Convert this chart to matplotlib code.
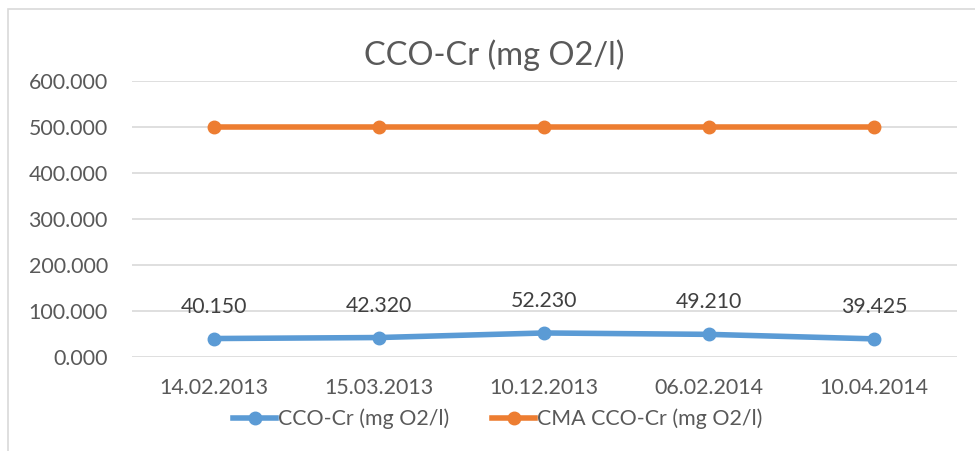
import matplotlib
matplotlib.use("Agg")
import matplotlib.pyplot as plt
from matplotlib.patches import Rectangle
from matplotlib.lines import Line2D

categories = ["14.02.2013", "15.03.2013", "10.12.2013", "06.02.2014", "10.04.2014"]
cco_cr = [40.150, 42.320, 52.230, 49.210, 39.425]
cma_cco_cr = [500, 500, 500, 500, 500]
yticks = [0, 100, 200, 300, 400, 500, 600]
title = "CCO-Cr (mg O2/l)"
series_names = ["CCO-Cr (mg O2/l)", "CMA CCO-Cr (mg O2/l)"]

BLUE = "#5B9BD5"
ORANGE = "#ED7D31"
TEXT = "#595959"
GRID = "#D9D9D9"

plt.rcParams["font.family"] = ["Lato", "DejaVu Sans"]

W, H = 975, 451
fig = plt.figure(figsize=(W / 100, H / 100), dpi=100)

# chart border
fig.patches.append(Rectangle((8 / W, -0.05), 1.2, 1 - 9 / H + 0.05, transform=fig.transFigure,
                             fill=False, edgecolor=GRID, linewidth=1.2))

ax = fig.add_axes([131.5 / W, 1 - 357 / H, (956.5 - 131.5) / W, (357 - 81) / H])
x = list(range(len(categories)))

ax.plot(x, cco_cr, color=BLUE, linewidth=4, marker="o", markersize=9, solid_capstyle="round", zorder=3)
ax.plot(x, cma_cco_cr, color=ORANGE, linewidth=4, marker="o", markersize=9, solid_capstyle="round", zorder=3)

for xi, v in zip(x, cco_cr):
    ax.annotate(f"{v:.3f}", (xi, v), xytext=(0, 23), textcoords="offset points",
                ha="center", va="center", fontsize=15.3, color="#404040")

ax.set_xlim(-0.5, len(categories) - 0.5)
ax.set_ylim(0, 600)
ax.set_yticks(yticks)
ax.set_yticklabels([f"{t:.3f}" for t in yticks])
ax.set_xticks(x)
ax.set_xticklabels(categories)
ax.tick_params(axis="both", length=0, labelsize=15.4, colors=TEXT)
ax.tick_params(axis="y", pad=17)
ax.tick_params(axis="x", pad=15)
ax.grid(axis="y", color=GRID, linewidth=1.2)
ax.set_axisbelow(True)
for s in ax.spines.values():
    s.set_visible(False)

fig.text(494 / W, 1 - 55 / H, title, ha="center", va="center", fontsize=23.5, color=TEXT)

handles = [Line2D([0], [0], color=BLUE, linewidth=4, marker="o", markersize=9),
           Line2D([0], [0], color=ORANGE, linewidth=4, marker="o", markersize=9)]
fig.legend(handles, series_names, loc="center", bbox_to_anchor=(498 / W, 1 - 419 / H),
           ncol=2, frameon=False, fontsize=15.4, labelcolor=TEXT, handlelength=2.0,
           handletextpad=0.1, columnspacing=2.0)

fig.savefig("out.png", dpi=100)
